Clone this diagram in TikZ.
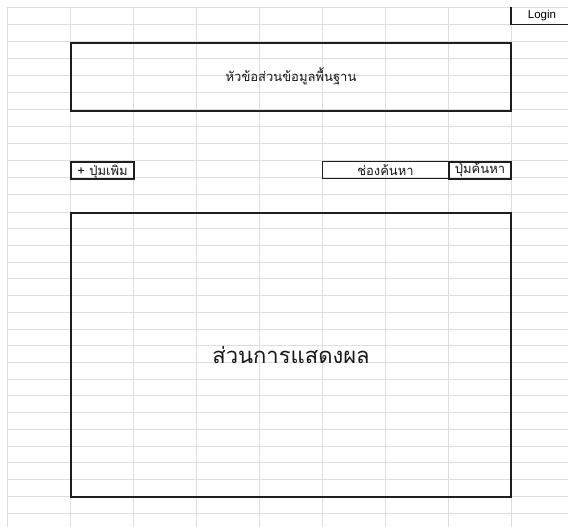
\documentclass[tikz,border=0pt]{standalone}
\usepackage{fontspec}
\setmainfont{Liberation Sans}
\newfontfamily\thaifont[Script=Thai]{Loma}
\definecolor{gridgray}{RGB}{222,222,222}
\definecolor{boxblack}{RGB}{30,30,30}
\definecolor{txtcol}{RGB}{25,25,25}
\begin{document}
\begin{tikzpicture}[x=1pt,y=-1pt,
  gridline/.style={draw=gridgray,line width=0.9pt},
  panel/.style={draw=boxblack,line width=2pt,inner sep=0pt,anchor=north west},
  field/.style={draw=boxblack,line width=1pt,inner sep=0pt,anchor=north west},
  smalltxt/.style={inner sep=0pt,text=txtcol,font=\thaifont\fontsize{13}{15}\selectfont},
  bigtxt/.style={inner sep=0pt,text=txtcol,font=\thaifont\fontsize{22}{26}\selectfont}]
\useasboundingbox[fill=white] (0,0) rectangle (568,527);
% grid
\foreach \k in {0,...,12} \draw[gridline] (7,{7+\k*17.08}) -- (568,{7+\k*17.08});
\foreach \k in {1,...,18} \draw[gridline] (7,{212+\k*16.72}) -- (568,{212+\k*16.72});
\draw[gridline] (7,7) -- (7,527);
\foreach \k in {1,...,8} \draw[gridline] ({7+63*\k},7) -- ({7+63*\k},527);
% header panel
\node[panel,minimum width=440pt,minimum height=67.5pt,label={[smalltxt]center:หัวข้อส่วนข้อมูลพื้นฐาน}] (header) at (70,42) {};
% buttons and search
\node[panel,minimum width=63pt,minimum height=17pt,label={[smalltxt]center:+ ปุ่มเพิ่ม}] (addbtn) at (70,160.7) {};
\node[field,minimum width=126pt,minimum height=17pt,label={[smalltxt]center:ช่องค้นหา}] (search) at (322,160.7) {};
\node[panel,minimum width=62pt,minimum height=17pt,label={[smalltxt]center:ปุ่มค้นหา}] (searchbtn) at (448,160.7) {};
% display panel
\node[panel,minimum width=440pt,minimum height=284pt,label={[bigtxt]center:ส่วนการแสดงผล}] (display) at (70,212) {};
% login cell
\coordinate (lgtop) at (511,7);
\coordinate (lgcorner) at (511,24.3);
\coordinate (lgright) at (568,24.3);
\draw[boxblack,line width=1.2pt] (lgtop) -- (lgcorner) -- (lgright);
\node[font=\fontsize{11.5}{13}\selectfont,inner sep=0pt] (login) at (542,15.6) {Login};
\end{tikzpicture}
\end{document}
